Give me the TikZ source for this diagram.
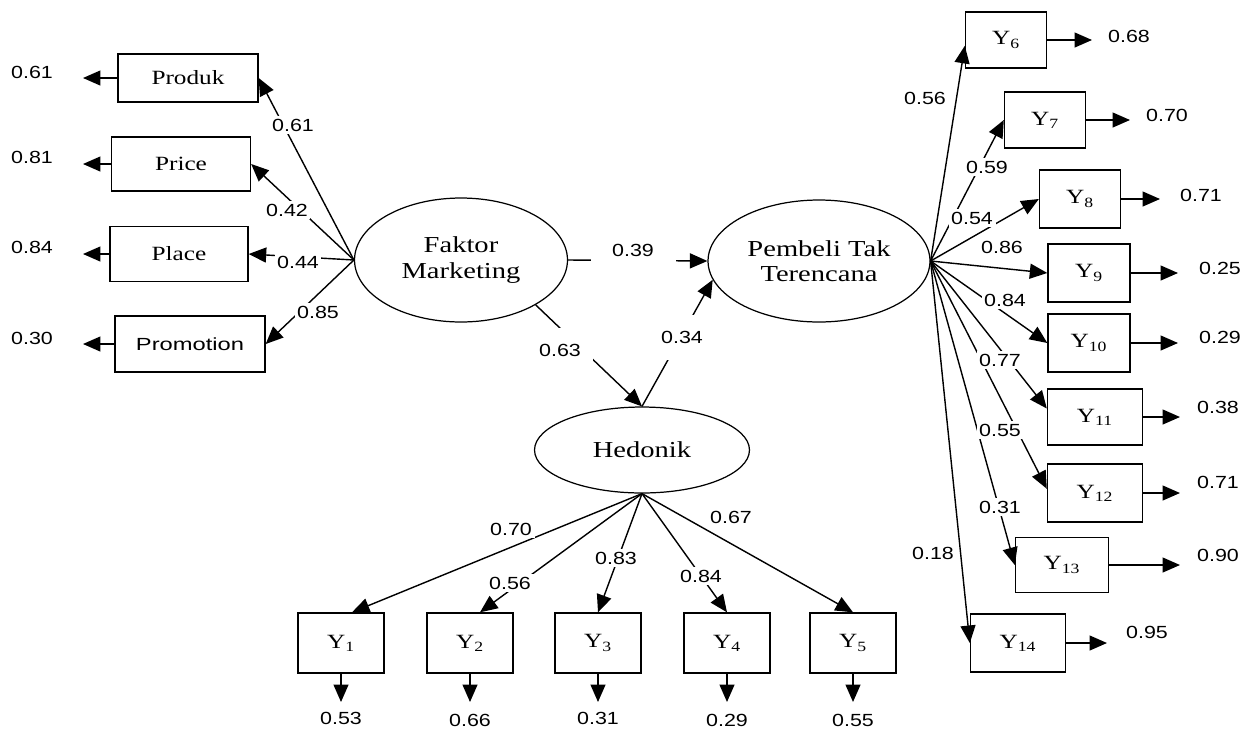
\documentclass[tikz,border=0pt]{standalone}
\usepackage{fontspec}
\setmainfont{Liberation Serif}[FakeStretch=1.25]
\newfontfamily\numfont{Liberation Sans}[FakeStretch=1.22]
\newfontfamily\promfont{Liberation Sans}[FakeStretch=1.35]
\usetikzlibrary{arrows.meta,shapes,positioning,calc}

\begin{document}
\begin{tikzpicture}[x=0.02cm, y=-0.02cm,
            box/.style={rectangle, draw, line width=0.8pt, minimum width=1.72cm, minimum height=1.2cm, font=\fontsize{11.5}{13}\selectfont},
            lat/.style={ellipse, draw, line width=0.7pt, align=center, inner sep=0pt, font=\fontsize{13}{14.5}\selectfont},
            arrow/.style={-{Triangle[length=3.5mm,width=3mm]}, line width=0.8pt},
            num/.style={fill=white, inner sep=1.5pt, font=\numfont\fontsize{10}{12}\selectfont}
        ]
            \useasboundingbox (0,0) rectangle (1247,731);

            % latent variables
            \node[lat, minimum width=4.26cm, minimum height=2.48cm] (fm) at (461,260) {Faktor\\Marketing};
            \node[lat, minimum width=4.44cm, minimum height=2.44cm] (ptt) at (819,261) {Pembeli Tak\\Terencana};
            \node[lat, minimum width=4.3cm, minimum height=1.72cm] (hed) at (642,450) {Hedonik};

            % indicators of Faktor Marketing
            \node[box, minimum width=2.8cm, minimum height=0.96cm] (produk) at (188,78) {Produk};
            \node[box, minimum width=2.78cm, minimum height=1.08cm] (price) at (181,164) {Price};
            \node[box, minimum width=2.76cm, minimum height=1.1cm] (place) at (179,254) {Place};
            \node[box, minimum width=3cm, minimum height=1.12cm, font=\promfont\fontsize{10}{12}\selectfont] (promo) at (190,344) {Promotion};

            % indicators of Hedonik
            \node[box] (y1) at (341,643) {Y\textsubscript{1}};
            \node[box] (y2) at (470,643) {Y\textsubscript{2}};
            \node[box] (y3) at (598,643) {Y\textsubscript{3}};
            \node[box] (y4) at (727,643) {Y\textsubscript{4}};
            \node[box] (y5) at (853,643) {Y\textsubscript{5}};

            % indicators of Pembeli Tak Terencana
            \node[box, minimum width=1.62cm, minimum height=1.12cm] (y6) at (1006,40) {Y\textsubscript{6}};
            \node[box, minimum width=1.62cm, minimum height=1.12cm] (y7) at (1045,120) {Y\textsubscript{7}};
            \node[box, minimum width=1.62cm, minimum height=1.16cm] (y8) at (1080,199) {Y\textsubscript{8}};
            \node[box, minimum width=1.64cm, minimum height=1.16cm] (y9) at (1089,273) {Y\textsubscript{9}};
            \node[box, minimum width=1.64cm, minimum height=1.16cm] (y10) at (1089,343) {Y\textsubscript{10}};
            \node[box, minimum width=1.9cm, minimum height=1.12cm] (y11) at (1095,417) {Y\textsubscript{11}};
            \node[box, minimum width=1.9cm, minimum height=1.16cm] (y12) at (1095,493) {Y\textsubscript{12}};
            \node[box, minimum width=1.86cm, minimum height=1.1cm] (y13) at (1062,565) {Y\textsubscript{13}};
            \node[box, minimum width=1.9cm, minimum height=1.16cm] (y14) at (1018,643) {Y\textsubscript{14}};

            % error ends
            \coordinate (eprod) at (83,78);
            \coordinate (eprice) at (83,164);
            \coordinate (eplace) at (83,254);
            \coordinate (epromo) at (83,344);
            \coordinate (e1) at (341,702);
            \coordinate (e2) at (470,702);
            \coordinate (e3) at (598,702);
            \coordinate (e4) at (727,702);
            \coordinate (e5) at (853,702);
            \coordinate (e6) at (1092,40);
            \coordinate (e7) at (1130,120);
            \coordinate (e8) at (1160,199);
            \coordinate (e9) at (1178,273);
            \coordinate (e10) at (1178,343);
            \coordinate (e11) at (1180,417);
            \coordinate (e12) at (1180,493);
            \coordinate (e13) at (1180,565);
            \coordinate (e14) at (1107,643);

            % loadings
            \draw[arrow] (fm.west) -- (produk.east);
            \draw[arrow] (fm.west) -- (price.east);
            \draw[arrow] (fm.west) -- (place.east);
            \draw[arrow] (fm.west) -- (promo.east);
            \draw[arrow] (hed.south) -- ($(y1.north)+(11,0)$);
            \draw[arrow] (hed.south) -- ($(y2.north)+(10,0)$);
            \draw[arrow] (hed.south) -- (y3.north);
            \draw[arrow] (hed.south) -- (y4.north);
            \draw[arrow] (hed.south) -- (y5.north);
            \draw[arrow] (ptt.east) -- (y6.188);
            \draw[arrow] (ptt.east) -- (y7.west);
            \draw[arrow] (ptt.east) -- (y8.west);
            \draw[arrow] (ptt.east) -- (y9.west);
            \draw[arrow] (ptt.east) -- (y10.west);
            \draw[arrow] (ptt.east) -- (y11.170);
            \draw[arrow] (ptt.east) -- (y12.175);
            \draw[arrow] (ptt.east) -- (y13.west);
            \draw[arrow] (ptt.east) -- (y14.west);

            % paths
            \draw[arrow] (fm.east) -- (ptt.west);
            \draw[arrow] (fm.-31) -- (hed.north);
            \draw[arrow] (hed.north) -- (ptt.190);

            % errors
            \draw[arrow] (produk.west) -- (eprod);
            \draw[arrow] (price.west) -- (eprice);
            \draw[arrow] (place.west) -- (eplace);
            \draw[arrow] (promo.west) -- (epromo);
            \draw[arrow] (y1.south) -- (e1);
            \draw[arrow] (y2.south) -- (e2);
            \draw[arrow] (y3.south) -- (e3);
            \draw[arrow] (y4.south) -- (e4);
            \draw[arrow] (y5.south) -- (e5);
            \draw[arrow] (y6.east) -- (e6);
            \draw[arrow] (y7.east) -- (e7);
            \draw[arrow] (y8.east) -- (e8);
            \draw[arrow] (y9.east) -- (e9);
            \draw[arrow] (y10.east) -- (e10);
            \draw[arrow] (y11.east) -- (e11);
            \draw[arrow] (y12.east) -- (e12);
            \draw[arrow] (y13.east) -- (e13);
            \draw[arrow] (y14.east) -- (e14);

            % coefficients
            \node[num] (lprod) at (293,125) {0.61};
            \node[num] (lprice) at (287,210) {0.42};
            \node[num] (lplace) at (298,262) {0.44};
            \node[num] (lpromo) at (318,312) {0.85};
            \node[num, minimum width=1.7cm, minimum height=0.7cm] (lfp) at (633,250) {0.39};
            \node[num, minimum width=1.3cm, minimum height=0.9cm] (lfh) at (560,350) {0.63};
            \node[num, minimum height=0.9cm] (lhp) at (682,337) {0.34};
            \node[num] (ly1) at (511,529) {0.70};
            \node[num] (ly2) at (510,583) {0.56};
            \node[num] (ly3) at (616,558) {0.83};
            \node[num] (ly4) at (701,576) {0.84};
            \node[num] (ly5) at (731,517) {0.67};
            \node[num] (ly6) at (925,98) {0.56};
            \node[num] (ly7) at (987,167) {0.59};
            \node[num] (ly8) at (972,218) {0.54};
            \node[num] (ly9) at (1002,247) {0.86};
            \node[num] (ly10) at (1005,300) {0.84};
            \node[num] (ly11) at (1000,360) {0.77};
            \node[num] (ly12) at (1000,430) {0.55};
            \node[num] (ly13) at (1000,507) {0.31};
            \node[num] (ly14) at (933,553) {0.18};

            % error variances
            \node[num] (vprod) at (32,72) {0.61};
            \node[num] (vprice) at (32,157) {0.81};
            \node[num] (vplace) at (32,247) {0.84};
            \node[num] (vpromo) at (32,338) {0.30};
            \node[num] (v1) at (341,718) {0.53};
            \node[num] (v2) at (470,720) {0.66};
            \node[num] (v3) at (598,718) {0.31};
            \node[num] (v4) at (727,720) {0.29};
            \node[num] (v5) at (853,720) {0.55};
            \node[num] (v6) at (1129,36) {0.68};
            \node[num] (v7) at (1167,115) {0.70};
            \node[num] (v8) at (1201,195) {0.71};
            \node[num] (v9) at (1220,268) {0.25};
            \node[num] (v10) at (1220,337) {0.29};
            \node[num] (v11) at (1218,407) {0.38};
            \node[num] (v12) at (1218,482) {0.71};
            \node[num] (v13) at (1218,555) {0.90};
            \node[num] (v14) at (1147,632) {0.95};
        \end{tikzpicture}
\end{document}
